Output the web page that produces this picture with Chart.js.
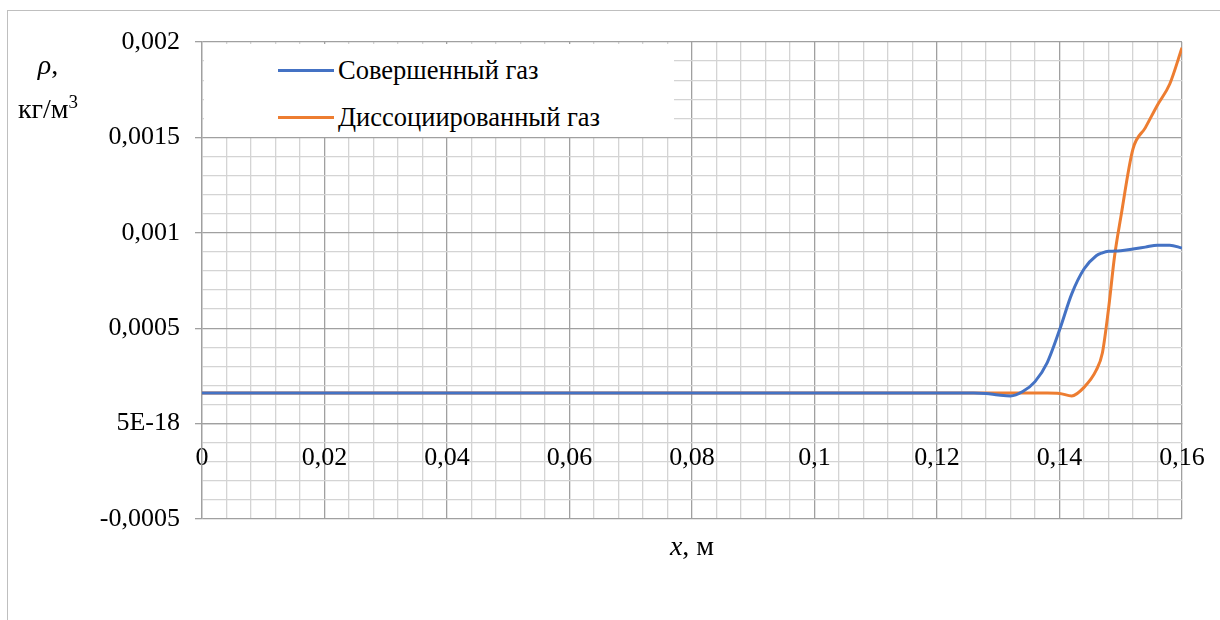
<!DOCTYPE html>
<html>
<head>
<meta charset="utf-8">
<script src="https://cdn.jsdelivr.net/npm/chart.js@4.4.1/dist/chart.umd.min.js"></script>
<style>
  body { margin: 0; background: #fff; overflow: hidden; }
  #wrap { position: relative; width: 1220px; height: 620px; overflow: hidden; font-family: "Liberation Serif", "Times New Roman", serif; }
  #frame { position: absolute; left: 7px; top: 10px; width: 1300px; height: 700px; border: 1px solid #bfbfbf; }
  canvas { position: absolute; left: 0; top: 0; }
  #legend { position: absolute; left: 204px; top: 44px; width: 470px; height: 93px; background: #fff; }
  .item { position: absolute; left: 74px; height: 30px; display: flex; align-items: center; font-size: 26.5px; color: #000; font-family: "Liberation Serif", serif; }
  .item span.line { display: inline-block; width: 56px; height: 3px; margin-right: 4px; }
  #ytitle { position: absolute; left: 8px; top: 46px; width: 80px; text-align: center; font-size: 28px; line-height: 37px; font-family: "Liberation Serif", serif; }
  #xtitle { position: absolute; left: 592px; top: 530px; width: 200px; text-align: center; font-size: 28px; font-family: "Liberation Serif", serif; }
</style>
</head>
<body>
<div id="wrap">
  <div id="frame"></div>
  <canvas id="graphCanvas" width="1220" height="620"></canvas>
  <div id="legend"></div>
  <div id="ytitle"><i>ρ</i>,<br>кг/м<sup style="font-size:19px">3</sup></div>
  <div id="xtitle"><i>x</i>, м</div>
</div>
<script>
const xValues = [0, 0.02, 0.04, 0.06, 0.08, 0.1, 0.12, 0.126, 0.128, 0.13, 0.132, 0.134, 0.136,
  0.138, 0.14, 0.142, 0.144, 0.146, 0.147, 0.148, 0.149, 0.15, 0.152, 0.154, 0.156, 0.158, 0.16];
const perfectGas = [0.00016, 0.00016, 0.00016, 0.00016, 0.00016, 0.00016, 0.00016, 0.00016,
  0.000158, 0.00015, 0.000145, 0.000168, 0.00022, 0.00032, 0.00049, 0.00068, 0.00081, 0.00088,
  0.000895, 0.000903, 0.000904, 0.000906, 0.000915, 0.000925, 0.000935, 0.000935, 0.00092];
const dissociatedGas = [0.00016, 0.00016, 0.00016, 0.00016, 0.00016, 0.00016, 0.00016, 0.00016,
  0.00016, 0.00016, 0.00016, 0.00016, 0.00016, 0.00016, 0.000158, 0.000145, 0.00019, 0.00028,
  0.00037, 0.0006, 0.00088, 0.00108, 0.00144, 0.00155, 0.00167, 0.00178, 0.00197];
const seriesNames = ['Совершенный газ', 'Диссоциированный газ'];
const seriesColors = ['#4472C4', '#ED7D31'];

const xTickValues = [0, 0.02, 0.04, 0.06, 0.08, 0.1, 0.12, 0.14, 0.16];
const xTickLabels = ['0', '0,02', '0,04', '0,06', '0,08', '0,1', '0,12', '0,14', '0,16'];
const yTickValues = [-0.0005, 0, 0.0005, 0.001, 0.0015, 0.002];
const yTickLabels = ['-0,0005', '5E-18', '0,0005', '0,001', '0,0015', '0,002'];

function findLabel(values, labels, v) {
  for (let i = 0; i < values.length; i++) {
    if (Math.abs(values[i] - v) < 1e-9) return labels[i];
  }
  return '';
}
const isMajorX = v => findLabel(xTickValues, xTickLabels, v) !== '';
const isMajorY = v => findLabel(yTickValues, yTickLabels, v) !== '';

function drawChart() {
  const ctx = document.getElementById('graphCanvas').getContext('2d');
  const chart = new Chart(ctx, {
    type: 'line',
    data: {
      datasets: [perfectGas, dissociatedGas].map((ys, k) => ({
        label: seriesNames[k],
        data: xValues.map((x, i) => ({ x: x, y: ys[i] })),
        borderColor: seriesColors[k],
        borderWidth: 3,
        pointRadius: 0,
        fill: false,
        cubicInterpolationMode: 'monotone'
      }))
    },
    options: {
      responsive: false,
      animation: false,
      layout: { padding: { top: 42, right: 38, bottom: 101, left: 0 } },
      plugins: { legend: { display: false }, tooltip: { enabled: false } },
      scales: {
        x: {
          type: 'linear',
          position: { y: 0 },
          min: 0,
          max: 0.16,
          afterFit: s => { s.paddingLeft = 0; s.paddingRight = 0; },
          grid: {
            color: c => isMajorX(c.tick.value) ? '#a0a0a0' : '#d4d4d4',
            lineWidth: 1.3,
            drawTicks: false
          },
          border: { color: '#a0a0a0', width: 1.3 },
          ticks: {
            stepSize: 0.004,
            autoSkip: false,
            maxRotation: 0,
            padding: 19,
            color: '#000',
            font: { family: '"Liberation Serif", serif', size: 26 },
            callback: v => findLabel(xTickValues, xTickLabels, v)
          }
        },
        y: {
          min: -0.0005,
          max: 0.002,
          afterFit: s => { s.width = 202; },
          grid: {
            color: c => isMajorY(c.tick.value) ? '#a0a0a0' : '#d4d4d4',
            tickColor: c => isMajorY(c.tick.value) ? '#a0a0a0' : 'rgba(0,0,0,0)',
            lineWidth: 1.3,
            tickLength: 7
          },
          border: { color: '#a0a0a0', width: 1.3 },
          ticks: {
            stepSize: 0.0001,
            autoSkip: false,
            padding: 15,
            color: '#000',
            font: { family: '"Liberation Serif", serif', size: 26 },
            callback: v => findLabel(yTickValues, yTickLabels, v)
          }
        }
      }
    }
  });

  const legend = document.getElementById('legend');
  chart.data.datasets.forEach((ds, i) => {
    const item = document.createElement('div');
    item.className = 'item';
    item.style.top = (11 + i * 47) + 'px';
    item.innerHTML = '<span class="line" style="background:' + ds.borderColor + '"></span>' + ds.label;
    legend.appendChild(item);
  });
}

Promise.all([
  document.fonts.load('25px "Liberation Serif"'),
  document.fonts.load('italic 25px "Liberation Serif"')
]).then(drawChart, drawChart);
</script>
</body>
</html>
